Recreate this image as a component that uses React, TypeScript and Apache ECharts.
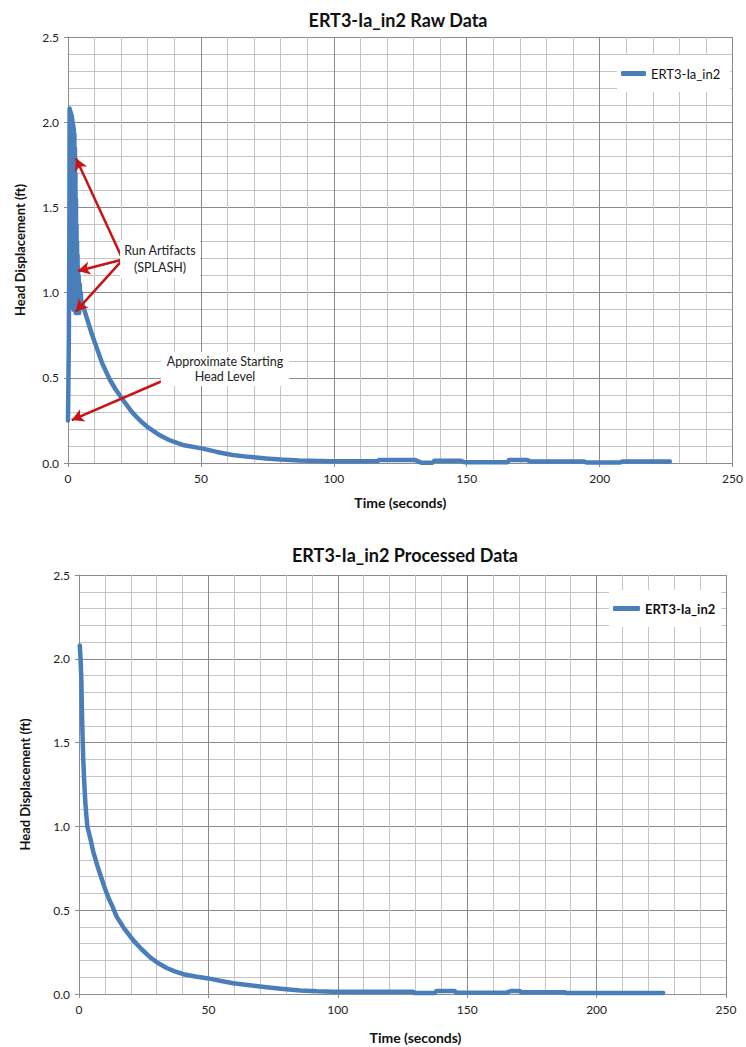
import React, { useEffect, useRef } from 'react';
import * as echarts from 'echarts';

const seriesName = 'ERT3-Ia_in2';
const rawTitle = 'ERT3-Ia_in2 Raw Data';
const procTitle = 'ERT3-Ia_in2 Processed Data';
const xAxisTitle = 'Time (seconds)';
const yAxisTitle = 'Head Displacement (ft)';

// Raw record (time in s, head displacement in ft)
const rawTime = [
  0, 0.3, 0.5,
  0.6, 0.7, 0.8, 0.9, 1.0, 1.1, 1.2, 1.3, 1.4, 1.5, 1.6, 1.7, 1.8, 1.9, 2.0, 2.1, 2.2, 2.3, 2.4, 2.5, 2.6, 2.7, 2.8,
  2.9, 3.0, 3.1, 3.2, 3.3, 3.4, 3.5, 3.6, 3.7, 3.8, 3.9, 4.0,
  4.2, 4.4, 4.6, 4.8, 5.0, 5.5,
  6.5, 8.9, 10.7, 13, 15.7, 18, 20.7, 24, 26.9, 30, 34.4, 38, 43.2, 50.3, 56, 61.9, 68, 74.4, 80, 86.9, 99, 108,
  116.6, 117, 130.4, 132.9, 137.2, 137.8, 147.8, 149.1, 165.3, 165.9, 172.8, 174, 194, 195, 207.7, 208.5, 226.4,
];
const rawHead = [
  0.25, 0.7, 1.3,
  2.08, 1.0, 2.07, 0.95, 2.06, 1.02, 2.05, 0.93, 2.04, 1.05, 2.02, 0.92, 2.0, 1.0, 1.98, 0.9, 1.96, 0.95, 1.93, 0.9, 1.85, 0.92, 1.7,
  0.88, 1.55, 0.9, 1.4, 0.88, 1.3, 0.9, 1.22, 0.88, 1.15, 0.9, 1.1,
  0.88, 1.05, 0.92, 1.0, 0.95, 0.93,
  0.88, 0.76, 0.68, 0.58, 0.49, 0.43, 0.37, 0.3, 0.252, 0.21, 0.164, 0.135, 0.106, 0.086, 0.065, 0.047, 0.036, 0.027, 0.02, 0.014, 0.01, 0.01,
  0.012, 0.018, 0.018, 0.002, 0.002, 0.013, 0.013, 0.005, 0.005, 0.017, 0.017, 0.009, 0.009, 0.003, 0.003, 0.009, 0.009,
];

// Processed record
const procTime = [
  0.3, 0.6, 0.9, 1.1, 1.3, 1.6, 2.0, 2.5, 3.2, 4.5, 5.5, 7, 8.5, 10, 11.5, 13, 14.6, 17.5, 21, 24, 27.4, 30.5, 33.9, 37,
  40.3, 45, 50, 55, 59.6, 66, 72.5, 79, 85.4, 92, 98, 113.6, 129.1, 129.7, 137.4, 138.1, 145.2, 145.8, 165.1, 167,
  170.3, 170.9, 187.7, 188.3, 225.7,
];
const procHead = [
  2.08, 2.0, 1.88, 1.72, 1.58, 1.42, 1.27, 1.13, 1.0, 0.92, 0.85, 0.77, 0.7, 0.63, 0.57, 0.52, 0.46, 0.39, 0.32, 0.27, 0.22, 0.185, 0.155, 0.135,
  0.118, 0.104, 0.093, 0.078, 0.064, 0.052, 0.04, 0.03, 0.021, 0.016, 0.014, 0.014, 0.014, 0.006, 0.006, 0.018, 0.018, 0.008, 0.008, 0.018,
  0.018, 0.01, 0.01, 0.006, 0.006,
];

// Annotation arrows (data coordinates of the raw chart)
const splashLabel = 'Run Artifacts\n(SPLASH)';
const startLabel = 'Approximate Starting\nHead Level';
const splashFrom = [20.6, 1.194];
const splashTargets = [
  [3.0, 1.788],
  [3.74, 1.127],
  [2.9, 0.888],
];
const startFrom = [36.3, 0.487];
const startTarget = [1.4, 0.252];

const FONT = 'Lato, "Open Sans", "DejaVu Sans", sans-serif';
const BLUE = '#4a7ebb';
const RED = '#c81414';

function axisPair(gridIndex: number, yNameGap: number, xNameGap: number, xNamePad: number[]) {
  const x = {
    type: 'value',
    gridIndex,
    min: 0,
    max: 250,
    interval: 50,
    name: xAxisTitle,
    nameLocation: 'middle',
    nameGap: xNameGap,
    nameTextStyle: { fontFamily: FONT, fontSize: 14, fontWeight: 'bold', color: '#111', padding: xNamePad },
    axisLine: { show: true, lineStyle: { color: '#8c8c8c', width: 1 } },
    axisTick: { show: true, length: 4, lineStyle: { color: '#8c8c8c' } },
    minorTick: { show: false, splitNumber: 5 },
    axisLabel: { fontFamily: FONT, fontSize: 12, color: '#222', margin: 9 },
    splitLine: { show: true, lineStyle: { color: '#8a8a8a', width: 1 } },
    minorSplitLine: { show: true, lineStyle: { color: '#c4c4c4', width: 1 } },
  };
  const y = {
    type: 'value',
    gridIndex,
    min: 0,
    max: 2.5,
    interval: 0.5,
    name: yAxisTitle,
    nameLocation: 'middle',
    nameGap: yNameGap,
    nameRotate: 90,
    nameTextStyle: { fontFamily: FONT, fontSize: 13, fontWeight: 'bold', color: '#111' },
    axisLine: { show: true, lineStyle: { color: '#8c8c8c', width: 1 } },
    axisTick: { show: true, length: 4, lineStyle: { color: '#8c8c8c' } },
    minorTick: { show: false, splitNumber: 5 },
    axisLabel: { fontFamily: FONT, fontSize: 12, color: '#222', margin: 9, formatter: (v: number) => v.toFixed(1) },
    splitLine: { show: true, lineStyle: { color: '#8a8a8a', width: 1 } },
    minorSplitLine: { show: true, lineStyle: { color: '#c4c4c4', width: 1 } },
  };
  return { x, y };
}

export default function App() {
  const ref = useRef<HTMLDivElement>(null);

  useEffect(() => {
    if (!ref.current) return;
    const chart = echarts.init(ref.current, undefined, { renderer: 'svg' });
    const top = axisPair(0, 42, 32, [0, 0, 0, 0]);
    const bottom = axisPair(1, 48, 36, [0, 0, 0, 26]);

    const arrowStyle = { color: RED, width: 2.5, type: 'solid' };

    chart.setOption({
      animation: false,
      backgroundColor: '#ffffff',
      title: [
        {
          text: rawTitle,
          left: 393,
          top: 6,
          textAlign: 'center',
          textStyle: { fontFamily: FONT, fontSize: 18, fontWeight: 'bold', color: '#111' },
        },
        {
          text: procTitle,
          left: 400,
          top: 541,
          textAlign: 'center',
          textStyle: { fontFamily: FONT, fontSize: 18, fontWeight: 'bold', color: '#111' },
        },
      ],
      legend: [
        {
          data: [seriesName],
          left: 617,
          top: 55,
          padding: [12, 10, 12, 4],
          backgroundColor: '#ffffff',
          icon: 'roundRect',
          itemWidth: 25,
          itemHeight: 5,
          textStyle: { fontFamily: FONT, fontSize: 13, color: '#111' },
          selectedMode: false,
        },
        {
          data: [seriesName],
          left: 609,
          top: 590,
          padding: [12, 6, 12, 4],
          backgroundColor: '#ffffff',
          icon: 'roundRect',
          itemWidth: 27,
          itemHeight: 5,
          textStyle: { fontFamily: FONT, fontSize: 13, fontWeight: 'bold', color: '#111' },
          selectedMode: false,
        },
      ],
      grid: [
        { left: 68, top: 37, width: 668, height: 426, containLabel: false },
        { left: 79, top: 575, width: 647, height: 419, containLabel: false },
      ],
      xAxis: [top.x, bottom.x],
      yAxis: [top.y, bottom.y],
      series: [
        {
          name: seriesName,
          type: 'line',
          xAxisIndex: 0,
          yAxisIndex: 0,
          showSymbol: false,
          symbol: 'none',
          lineStyle: { color: BLUE, width: 4.5, cap: 'round', join: 'round' },
          itemStyle: { color: BLUE },
          data: rawTime.map((t, i) => [t, rawHead[i]]),
          markLine: {
            silent: true,
            z: 10,
            symbol: ['none', 'arrow'],
            symbolSize: [10, 12],
            label: { show: false },
            lineStyle: arrowStyle,
            data: [
              ...splashTargets.map((tg) => [{ coord: splashFrom }, { coord: tg }]),
              [{ coord: startFrom }, { coord: startTarget }],
            ],
          },
        },
        {
          name: seriesName,
          type: 'line',
          xAxisIndex: 1,
          yAxisIndex: 1,
          showSymbol: false,
          symbol: 'none',
          lineStyle: { color: BLUE, width: 4.5, cap: 'round', join: 'round' },
          itemStyle: { color: BLUE },
          data: procTime.map((t, i) => [t, procHead[i]]),
        },
      ],
      graphic: [
        {
          type: 'text',
          z: 20,
          style: {
            text: splashLabel,
            x: 160,
            y: 240,
            align: 'center',
            textAlign: 'center',
            verticalAlign: 'top',
            textVerticalAlign: 'top',
            font: `12.5px ${FONT}`,
            fill: '#222',
            lineHeight: 17,
            backgroundColor: '#ffffff',
            padding: [2, 4],
          },
        },
        {
          type: 'text',
          z: 20,
          style: {
            text: startLabel,
            x: 225,
            y: 352,
            align: 'center',
            textAlign: 'center',
            verticalAlign: 'top',
            textVerticalAlign: 'top',
            font: `12.5px ${FONT}`,
            fill: '#222',
            lineHeight: 15,
            backgroundColor: '#ffffff',
            padding: [2, 6],
          },
        },
      ],
    });

    return () => chart.dispose();
  }, []);

  return <div ref={ref} style={{ position: 'absolute', left: 0, top: 0, width: 746, height: 1047 }} />;
}
